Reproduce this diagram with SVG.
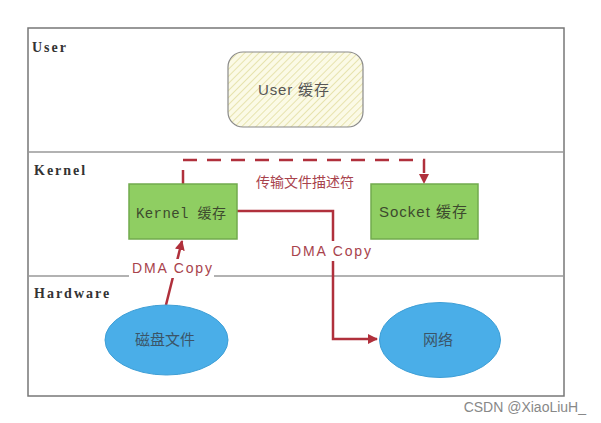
<svg xmlns="http://www.w3.org/2000/svg" width="601" height="423" viewBox="0 0 601 423">
<style>
.lane{font-family:"Liberation Serif","DejaVu Serif",serif;font-weight:bold;font-size:14px;letter-spacing:2px;fill:#333}
.red{font-family:"Liberation Sans","Noto Sans CJK SC",sans-serif;font-size:14px;fill:#a8424c}
.nodeText{font-family:"Liberation Sans","Noto Sans CJK SC",sans-serif;font-size:15px;fill:#3d4a2e}
.hw{font-family:"Liberation Sans","Noto Sans CJK SC",sans-serif;font-size:15px;fill:#3b5568}
.box{fill:#8fce62;stroke:#72aa4e;stroke-width:1.5}
.ell{fill:#4aaee8;stroke:#3f9fd6;stroke-width:1}
.conn{fill:none;stroke:#b0303c;stroke-width:2.5}
</style>
<defs>
<pattern id="hatch" patternUnits="userSpaceOnUse" width="5" height="5" patternTransform="rotate(45)">
<rect width="5" height="5" fill="#fbfae6"/>
<line x1="0" y1="0" x2="0" y2="5" stroke="#e2dea0" stroke-width="1.6"/>
</pattern>
<marker id="arr" viewBox="0 0 10 10" refX="9" refY="5" markerWidth="4" markerHeight="4" orient="auto" markerUnits="strokeWidth">
<path d="M0,0 L10,5 L0,10 z" fill="#b0303c"/>
</marker>
</defs>
<rect width="601" height="423" fill="#ffffff"/>
<g id="frame">
<rect x="28" y="28" width="536" height="368" fill="none" stroke="#777" stroke-width="1.5"/>
<line x1="28" y1="152" x2="564" y2="152" stroke="#999" stroke-width="1.5"/>
<line x1="28" y1="276" x2="564" y2="276" stroke="#999" stroke-width="1.5"/>
<text class="lane" x="32" y="52">User</text>
<text class="lane" x="34" y="175">Kernel</text>
<text class="lane" x="34" y="298">Hardware</text>
</g>
<g id="connectors">
<path class="conn" d="M183,184 V160 H424 V183" stroke-dasharray="14,10" marker-end="url(#arr)"/>
<path class="conn" d="M237,211 H333 V339 H377" marker-end="url(#arr)"/>
<path class="conn" d="M166,305 L182,241" marker-end="url(#arr)"/>
<rect x="288" y="241" width="86" height="20" fill="#fff"/>
<text class="red" x="291" y="256" textLength="80" lengthAdjust="spacing">DMA Copy</text>
<rect x="129" y="259" width="85" height="19" fill="#fff"/>
<text class="red" x="132" y="273" textLength="80" lengthAdjust="spacing">DMA Copy</text>
<text class="red" x="305" y="187" text-anchor="middle" font-size="15.5">传输文件描述符</text>
</g>
<g id="user-cache">
<rect x="228" y="52" width="135" height="75" rx="15" fill="url(#hatch)" stroke="#8a8a8a" stroke-width="1.2"/>
<text x="258" y="95" textLength="71" lengthAdjust="spacing" style="font-family:'Liberation Sans','Noto Sans CJK SC',sans-serif;font-size:15px;fill:#555">User 缓存</text>
</g>
<g id="kernel-cache">
<rect class="box" x="129" y="184" width="108" height="55"/>
<text x="136" y="218" textLength="90" lengthAdjust="spacing" style="font-family:'Liberation Mono','Noto Sans CJK SC',monospace;font-size:14px;fill:#3d4a2e">Kernel 缓存</text>
</g>
<g id="socket-cache">
<rect class="box" x="371" y="184" width="107" height="55"/>
<text class="nodeText" x="379" y="217" textLength="88" lengthAdjust="spacing">Socket 缓存</text>
</g>
<g id="disk">
<ellipse class="ell" cx="166.5" cy="340" rx="61.5" ry="35"/>
<text class="hw" x="165" y="345" text-anchor="middle">磁盘文件</text>
</g>
<g id="network">
<ellipse class="ell" cx="440" cy="340" rx="60.5" ry="37.5"/>
<text class="hw" x="438" y="345" text-anchor="middle">网络</text>
</g>
<text x="586" y="412" text-anchor="end" style="font-family:'Liberation Sans',sans-serif;font-size:14px;fill:#888">CSDN @XiaoLiuH_</text>
</svg>
